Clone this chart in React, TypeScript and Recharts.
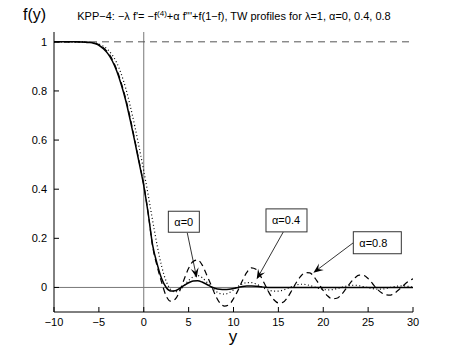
import React from 'react';
import { LineChart, Line, XAxis, YAxis, ReferenceLine, ReferenceDot } from 'recharts';

const xs = [-10, -9.5, -9, -8.5, -8, -7.5, -7, -6.5, -6, -5.5, -5, -4.5, -4, -3.5, -3, -2.5, -2, -1.5, -1, -0.5, 0, 0.5, 1, 1.5, 2, 2.5, 3, 3.5, 4, 4.5, 5, 5.5, 6, 6.5, 7, 7.5, 8, 8.5, 9, 9.5, 10, 10.5, 11, 11.5, 12, 12.5, 13, 13.5, 14, 14.5, 15, 15.5, 16, 16.5, 17, 17.5, 18, 18.5, 19, 19.5, 20, 20.5, 21, 21.5, 22, 22.5, 23, 23.5, 24, 24.5, 25, 25.5, 26, 26.5, 27, 27.5, 28, 28.5, 29, 29.5, 30];

// alpha = 0 (solid)
const alpha0 = [1, 1, 1, 1, 1, 1, 0.999, 0.998,
  0.997, 0.993, 0.986, 0.972, 0.952, 0.922, 0.88, 0.825, 0.76, 0.68,
  0.595, 0.505, 0.415, 0.3, 0.17, 0.095, 0.035, 0.0, -0.014, -0.013,
  -0.004, 0.008, 0.019, 0.026, 0.027, 0.022, 0.013, 0.003, -0.004, -0.007,
  -0.008, -0.007, -0.004, 0.0, 0.004, 0.006, 0.006, 0.005, 0.003, 0.001,
  0, 0, 0, 0, 0, 0, 0, 0, 0, 0, 0, 0, 0, 0, 0, 0, 0, 0, 0, 0, 0, 0, 0, 0, 0, 0, 0, 0, 0, 0, 0, 0, 0];

// alpha = 0.4 (dotted)
const alpha04 = [1, 1, 1, 1, 1, 1, 1, 0.999,
  0.998, 0.996, 0.991, 0.982, 0.968, 0.946, 0.914, 0.868, 0.81, 0.738,
  0.657, 0.568, 0.475, 0.375, 0.27, 0.17, 0.085, 0.025, -0.008, -0.018,
  -0.01, 0.008, 0.028, 0.043, 0.048, 0.04, 0.022, 0.002, -0.015, -0.025,
  -0.027, -0.022, -0.01, 0.004, 0.014, 0.02, 0.02, 0.014, 0.005, -0.005,
  -0.012, -0.015, -0.015, -0.011, -0.004, 0.004, 0.01, 0.013, 0.012, 0.008,
  0.002, -0.004, -0.008, -0.01, -0.009, -0.005, 0.0, 0.005, 0.008, 0.009,
  0.007, 0.003, -0.001, -0.005, -0.007, -0.007, -0.004, 0.0, 0.004, 0.006,
  0.006, 0.004, 0.001];

// alpha = 0.8 (dashed)
const alpha08 = [1, 1, 1, 1, 1, 1, 1, 0.999,
  0.998, 0.995, 0.989, 0.976, 0.957, 0.928, 0.886, 0.832, 0.767, 0.688,
  0.6, 0.51, 0.418, 0.3, 0.165, 0.085, 0.02, -0.035, -0.056, -0.048,
  -0.015, 0.033, 0.078, 0.106, 0.112, 0.092, 0.052, 0.01, -0.033, -0.064,
  -0.076, -0.07, -0.046, -0.012, 0.028, 0.062, 0.08, 0.074, 0.047, 0.012,
  -0.024, -0.05, -0.063, -0.061, -0.042, -0.012, 0.02, 0.046, 0.06, 0.059,
  0.042, 0.015, -0.013, -0.035, -0.046, -0.044, -0.03, -0.007, 0.018, 0.038,
  0.05, 0.049, 0.036, 0.015, -0.006, -0.022, -0.03, -0.031, -0.022, -0.007,
  0.01, 0.025, 0.035];

const xTicks = [-10, -5, 0, 5, 10, 15, 20, 25, 30];
const yTicks = [0, 0.2, 0.4, 0.6, 0.8, 1];

const labels = ['α=0', 'α=0.4', 'α=0.8'];
// box anchor (left edge, vertical centre) and arrow from/to, in data units
const boxX = [2.74, 13.62, 23.35];
const boxY = [0.2675, 0.273, 0.182];
const boxW = [31, 41, 48];
const boxH = [21, 23, 22];
const arrowFromX = [4.85, 15.55, 23.35];
const arrowFromY = [0.222, 0.226, 0.182];
const arrowToX = [5.9, 12.58, 18.9];
const arrowToY = [0.039, 0.033, 0.06];

const rows = xs.map((x, i) => ({ x, a0: alpha0[i], a04: alpha04[i], a08: alpha08[i] }));

const FONT = 'Liberation Sans, Arial, Helvetica, sans-serif';
const fmt = (v: number) => {
  const s = String(Math.round(v * 10) / 10);
  return s.replace('-', '\u2212');
};

const BottomTick = (p: any) => (
  <g>
    <line x1={p.x} x2={p.x} y1={p.y} y2={p.y - 5} stroke="#000" strokeWidth={1} />
    <text x={p.x} y={p.y + 14} textAnchor="middle" fontSize={11} fontFamily={FONT} fill="#000">{fmt(p.payload.value)}</text>
  </g>
);
const TopTick = (p: any) => (
  <line x1={p.x} x2={p.x} y1={p.y} y2={p.y + 5} stroke="#000" strokeWidth={1} />
);
const LeftTick = (p: any) => (
  <g>
    <line x1={p.x} x2={p.x + 5} y1={p.y} y2={p.y} stroke="#000" strokeWidth={1} />
    <text x={p.x - 7} y={p.y + 4} textAnchor="end" fontSize={11} fontFamily={FONT} fill="#000">{fmt(p.payload.value)}</text>
  </g>
);
const RightTick = (p: any) => (
  <line x1={p.x} x2={p.x - 5} y1={p.y} y2={p.y} stroke="#000" strokeWidth={1} />
);

const arrowShape = (p: any) => {
  const { x1, y1, x2, y2 } = p;
  const dx = x2 - x1;
  const dy = y2 - y1;
  const len = Math.sqrt(dx * dx + dy * dy) || 1;
  const ux = dx / len;
  const uy = dy / len;
  const nx = -uy;
  const ny = ux;
  const L = 10;
  const W = 4;
  const pts = [
    [x2, y2],
    [x2 - L * ux + W * nx, y2 - L * uy + W * ny],
    [x2 - 0.6 * L * ux, y2 - 0.6 * L * uy],
    [x2 - L * ux - W * nx, y2 - L * uy - W * ny],
  ].map((q) => q.join(',')).join(' ');
  return (
    <g>
      <line x1={x1} y1={y1} x2={x2 - 0.6 * L * ux} y2={y2 - 0.6 * L * uy} stroke="#000" strokeWidth={0.8} />
      <polygon points={pts} fill="#000" />
    </g>
  );
};

const boxShape = (i: number) => (p: any) => {
  const { cx, cy } = p;
  return (
    <g>
      <rect x={cx} y={cy - boxH[i] / 2} width={boxW[i]} height={boxH[i]} fill="#fff" stroke="#333" strokeWidth={1} />
      <text x={cx + 6} y={cy + 4} fontSize={11} fontFamily={FONT} fill="#000">{labels[i]}</text>
    </g>
  );
};

export default function App() {
  return (
    <div style={{ position: 'absolute', left: 0, top: 0, width: 464, height: 348, background: '#fff' }}>
      <LineChart width={464} height={348} data={rows} margin={{ top: 32, right: 51, bottom: 0, left: 14 }}>
        <XAxis xAxisId="b" dataKey="x" type="number" domain={[-10, 30]} ticks={xTicks} interval={0}
          orientation="bottom" height={36} tickSize={0} tickMargin={0} tick={BottomTick}
          axisLine={{ stroke: '#000', strokeWidth: 1 }} allowDataOverflow />
        <XAxis xAxisId="t" dataKey="x" type="number" domain={[-10, 30]} ticks={xTicks} interval={0}
          orientation="top" height={0} tickSize={0} tickMargin={0} tick={TopTick}
          axisLine={{ stroke: '#000', strokeWidth: 1 }} allowDataOverflow />
        <YAxis yAxisId="l" type="number" domain={[-0.1, 1.04]} ticks={yTicks} interval={0}
          orientation="left" width={40} tickSize={0} tickMargin={0} tick={LeftTick}
          axisLine={{ stroke: '#000', strokeWidth: 1 }} allowDataOverflow />
        <YAxis yAxisId="r" type="number" domain={[-0.1, 1.04]} ticks={yTicks} interval={0}
          orientation="right" width={0} tickSize={0} tickMargin={0} tick={RightTick}
          axisLine={{ stroke: '#000', strokeWidth: 1 }} allowDataOverflow />
        <ReferenceLine xAxisId="b" yAxisId="l" x={0} stroke="#777" strokeWidth={1} />
        <ReferenceLine xAxisId="b" yAxisId="l" y={0} stroke="#777" strokeWidth={1} />
        <ReferenceLine xAxisId="b" yAxisId="l" y={1} stroke="#555" strokeWidth={1} strokeDasharray="7 5" />
        <Line xAxisId="b" yAxisId="l" dataKey="a04" type="monotone" stroke="#000" strokeWidth={1.2} strokeDasharray="1 2.5" dot={false} isAnimationActive={false} />
        <Line xAxisId="b" yAxisId="l" dataKey="a08" type="monotone" stroke="#000" strokeWidth={1.2} strokeDasharray="6 4" dot={false} isAnimationActive={false} />
        <Line xAxisId="b" yAxisId="l" dataKey="a0" type="monotone" stroke="#000" strokeWidth={1.5} dot={false} isAnimationActive={false} />
        {labels.map((l, i) => (
          <ReferenceLine key={'a' + l} xAxisId="b" yAxisId="l" ifOverflow="visible"
            segment={[{ x: arrowFromX[i], y: arrowFromY[i] }, { x: arrowToX[i], y: arrowToY[i] }]}
            shape={arrowShape} />
        ))}
        {labels.map((l, i) => (
          <ReferenceDot key={'b' + l} xAxisId="b" yAxisId="l" x={boxX[i]} y={boxY[i]} r={0} ifOverflow="visible" shape={boxShape(i)} />
        ))}
      </LineChart>
      <svg width={464} height={348} style={{ position: 'absolute', left: 0, top: 0, pointerEvents: 'none' }}>
        <text x={234} y={20} textAnchor="middle" fontSize={11} fontFamily={FONT} fill="#000">
          KPP−4: −λ f'= −f<tspan dy={-4} fontSize={8}>(4)</tspan><tspan dy={4}>+α f'''+f(1−f), TW profiles for λ=1, α=0, 0.4, 0.8</tspan>
        </text>
        <text x={23} y={20} fontSize={16} fontFamily={FONT} fill="#000">f(y)</text>
        <text x={233} y={342} textAnchor="middle" fontSize={17} fontFamily={FONT} fill="#000">y</text>
      </svg>
    </div>
  );
}
